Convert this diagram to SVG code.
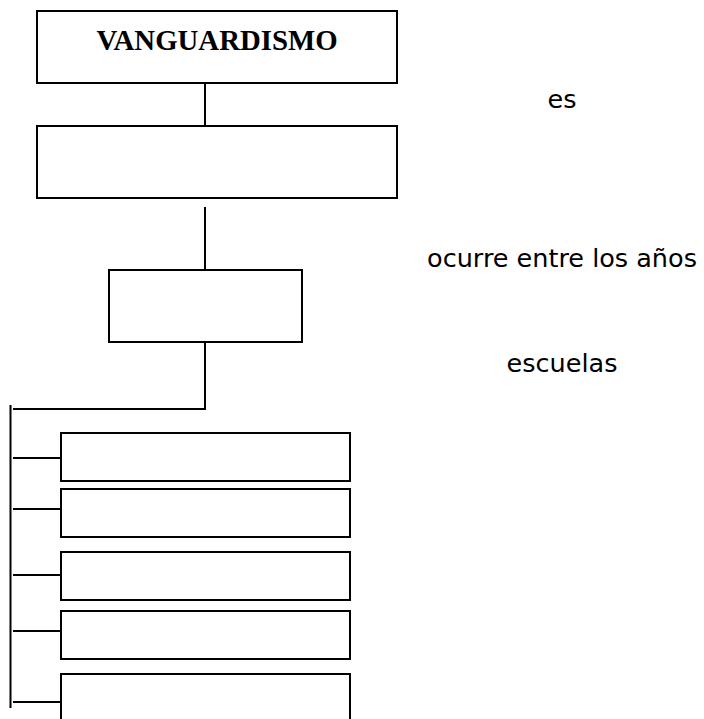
<svg xmlns="http://www.w3.org/2000/svg" width="704" height="719" viewBox="0 0 704 719">
<style>
.box{fill:#fff;stroke:#000;stroke-width:2}
.ln{fill:none;stroke:#000;stroke-width:2}
.lbl{font-family:"DejaVu Sans",Verdana,sans-serif;font-size:25.5px;fill:#000;text-anchor:middle}
.title{font-family:"Liberation Serif","Times New Roman",serif;font-weight:bold;font-size:28.8px;fill:#000;text-anchor:middle}
</style>
<rect width="704" height="719" fill="#fff"/>
<g id="connectors">
<line class="ln" x1="205" y1="83" x2="205" y2="126"/>
<line class="ln" x1="205" y1="207" x2="205" y2="270"/>
<polyline class="ln" points="205,342 205,409 13,409"/>
<line class="ln" x1="10.5" y1="405" x2="10.5" y2="708"/>
<line class="ln" x1="13" y1="458" x2="61" y2="458"/>
<line class="ln" x1="13" y1="509" x2="61" y2="509"/>
<line class="ln" x1="13" y1="575" x2="61" y2="575"/>
<line class="ln" x1="13" y1="631" x2="61" y2="631"/>
<line class="ln" x1="13" y1="702" x2="61" y2="702"/>
</g>
<g id="vanguardismo">
<rect class="box" x="37" y="11" width="360" height="72"/>
<text class="title" x="217" y="50">VANGUARDISMO</text>
</g>
<g id="box-es">
<rect class="box" x="37" y="126" width="360" height="72"/>
</g>
<g id="box-anos">
<rect class="box" x="109" y="270" width="193" height="72"/>
</g>
<g id="escuela-1"><rect class="box" x="61" y="433" width="289" height="48"/></g>
<g id="escuela-2"><rect class="box" x="61" y="489" width="289" height="48"/></g>
<g id="escuela-3"><rect class="box" x="61" y="552" width="289" height="48"/></g>
<g id="escuela-4"><rect class="box" x="61" y="611" width="289" height="48"/></g>
<g id="escuela-5"><rect class="box" x="61" y="674" width="289" height="60"/></g>
<g id="labels">
<text class="lbl" x="562" y="108">es</text>
<text class="lbl" x="562" y="267">ocurre entre los años</text>
<text class="lbl" x="562" y="372">escuelas</text>
</g>
</svg>
